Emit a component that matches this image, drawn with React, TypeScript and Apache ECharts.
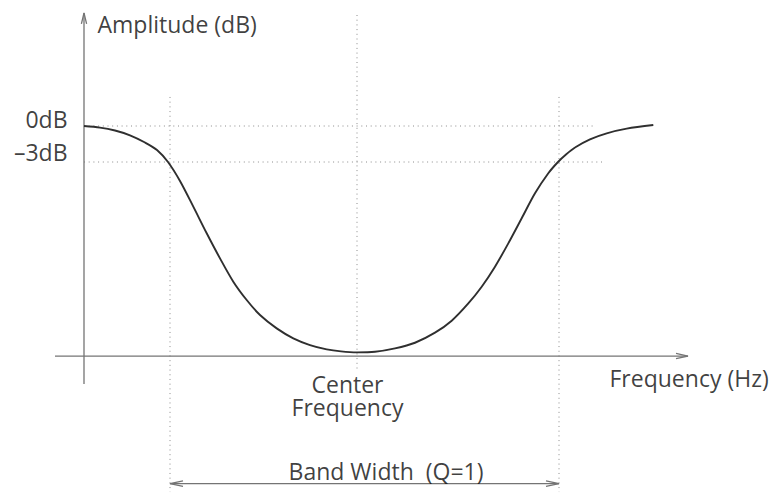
import { useEffect, useRef } from "react";
import * as echarts from "echarts";

const W = 774;
const H = 496;
// data extent (frequency units relative to the centre, amplitude in dB) spanning the canvas
const X_EXTENT = [-3.57, 4.17];
const Y_EXTENT = [-30.83, 10.5];

// filter response curve
const curveX = [-2.73, -2.57, -2.42, -2.27, -2.12, -2.0, -1.89, -1.77, -1.637, -1.503, -1.37, -1.237, -1.103, -0.97, -0.803, -0.637, -0.47, -0.303, -0.16, 0.0, 0.18, 0.38, 0.58, 0.78, 0.947, 1.113, 1.247, 1.38, 1.513, 1.647, 1.78, 1.913, 2.01, 2.09, 2.18, 2.33, 2.497, 2.697, 2.963];
const curveDb = [0.0, -0.13, -0.375, -0.775, -1.375, -2.0, -3.0, -4.58, -6.72, -8.94, -11.03, -12.97, -14.5, -15.75, -16.86, -17.69, -18.25, -18.61, -18.78, -18.86, -18.81, -18.53, -18.06, -17.22, -16.22, -14.78, -13.39, -11.72, -9.78, -7.69, -5.61, -3.94, -3.0, -2.375, -1.79, -1.11, -0.61, -0.22, 0.08];

// reference levels
const levelValues = [0, -3];
const levelLabels = ["0dB", "\u20133dB"];
const levelLineEnds = [2.38, 2.45];

// axes
const yAxisX = -2.73;
const yAxisRange = [-21.5, 9.42];
const xAxisDb = -19.17;
const xAxisRange = [-3.02, 3.31];

// verticals
const bandEdges = [-1.87, 2.02];
const bandEdgeRange = [2.42, -30.5];
const centerFreq = 0;
const centerRange = [9.25, -20.5];
const bandArrowDb = -29.8;

// texts
const yAxisName = "Amplitude (dB)";
const xAxisName = "Frequency (Hz)";
const centerName = "Center\nFrequency";
const bandName = "Band Width  (Q=1)";

const PX_X = W / (X_EXTENT[1] - X_EXTENT[0]);
const PX_Y = H / (Y_EXTENT[1] - Y_EXTENT[0]);

const FONT = "'Open Sans', 'Noto Sans', sans-serif";
const TEXT_COLOR = "#0d0d0d";
const AXIS_COLOR = "#747474";
const DOT_COLOR = "#8c8c8c";

function arrowHead(tip: number[], dir: number[], len: number, half: number) {
  // dir in screen pixels (x right, y up)
  const bx = tip[0] - (dir[0] * len) / PX_X;
  const by = tip[1] - (dir[1] * len) / PX_Y;
  const px = (-dir[1] * half) / PX_X;
  const py = (dir[0] * half) / PX_Y;
  return [
    [bx + px, by + py],
    [tip[0], tip[1]],
    [bx - px, by - py],
  ];
}

function seg(name: string, data: number[][], lineStyle: any, z = 2) {
  return {
    type: "line",
    name,
    data,
    symbol: "none",
    silent: true,
    z,
    lineStyle,
  };
}

function label(x: number, y: number, text: string, align: string, offset: number[], extra: any = {}) {
  return {
    value: [x, y],
    label: {
      show: true,
      formatter: text,
      position: [0, 0],
      align,
      verticalAlign: "middle",
      offset,
      fontFamily: FONT,
      fontSize: 23,
      color: TEXT_COLOR,
      ...extra,
    },
  };
}

export default function App() {
  const ref = useRef<HTMLDivElement>(null);
  useEffect(() => {
    if (!ref.current) return;
    const chart = echarts.init(ref.current, null, { renderer: "svg" });
    const axisStyle = { color: AXIS_COLOR, width: 1.3 };
    const dotStyle = { color: DOT_COLOR, width: 1, type: [1, 3.7] };
    const series: any[] = [];

    // dotted guides
    levelValues.forEach((v, i) => {
      series.push(seg("level" + i, [[yAxisX, v], [levelLineEnds[i], v]], dotStyle, 1));
    });
    bandEdges.forEach((x, i) => {
      series.push(seg("edge" + i, [[x, bandEdgeRange[0]], [x, bandEdgeRange[1]]], dotStyle, 1));
    });
    series.push(seg("center", [[centerFreq, centerRange[0]], [centerFreq, centerRange[1]]], dotStyle, 1));

    // axes
    series.push(seg("xAxis", [[xAxisRange[0], xAxisDb], [xAxisRange[1], xAxisDb]], axisStyle));
    series.push(seg("xArrow", arrowHead([xAxisRange[1], xAxisDb], [1, 0], 12, 2.6), axisStyle));
    series.push(seg("yAxis", [[yAxisX, yAxisRange[0]], [yAxisX, yAxisRange[1]]], axisStyle));
    series.push(seg("yArrow", arrowHead([yAxisX, yAxisRange[1]], [0, 1], 11, 2.6), axisStyle));

    // band width arrow
    series.push(seg("band", [[bandEdges[0], bandArrowDb], [bandEdges[1], bandArrowDb]], axisStyle));
    series.push(seg("bandL", arrowHead([bandEdges[0], bandArrowDb], [-1, 0], 13, 2.8), axisStyle));
    series.push(seg("bandR", arrowHead([bandEdges[1], bandArrowDb], [1, 0], 13, 2.8), axisStyle));

    // response curve
    series.push({
      type: "line",
      name: "response",
      data: curveX.map((x, i) => [x, curveDb[i]]),
      symbol: "none",
      smooth: 0.3,
      silent: true,
      z: 3,
      lineStyle: { color: "#2f2f2f", width: 1.9 },
    });

    // texts
    series.push({
      type: "scatter",
      name: "texts",
      symbolSize: 1,
      silent: true,
      z: 4,
      itemStyle: { color: "rgba(0,0,0,0)" },
      data: [
        label(yAxisX, yAxisRange[1], yAxisName, "left", [14, 12]),
        label(yAxisX, levelValues[0], levelLabels[0], "right", [-16, -7]),
        label(yAxisX, levelValues[1], levelLabels[1], "right", [-16, -10]),
        label(xAxisRange[1], xAxisDb, xAxisName, "left", [-78, 22]),
        label(centerFreq, xAxisDb, centerName, "center", [-9, 40], { lineHeight: 23 }),
        label((bandEdges[0] + bandEdges[1]) / 2, bandArrowDb, bandName, "center", [22, -12]),
      ],
    });

    chart.setOption({
      animation: false,
      grid: { left: 0, right: 0, top: 0, bottom: 0 },
      xAxis: { type: "value", min: X_EXTENT[0], max: X_EXTENT[1], show: false },
      yAxis: { type: "value", min: Y_EXTENT[0], max: Y_EXTENT[1], show: false },
      series,
    });
    return () => chart.dispose();
  }, []);
  return (
    <div
      ref={ref}
      style={{ position: "fixed", left: 0, top: 0, width: W, height: H, background: "#fff" }}
    />
  );
}
